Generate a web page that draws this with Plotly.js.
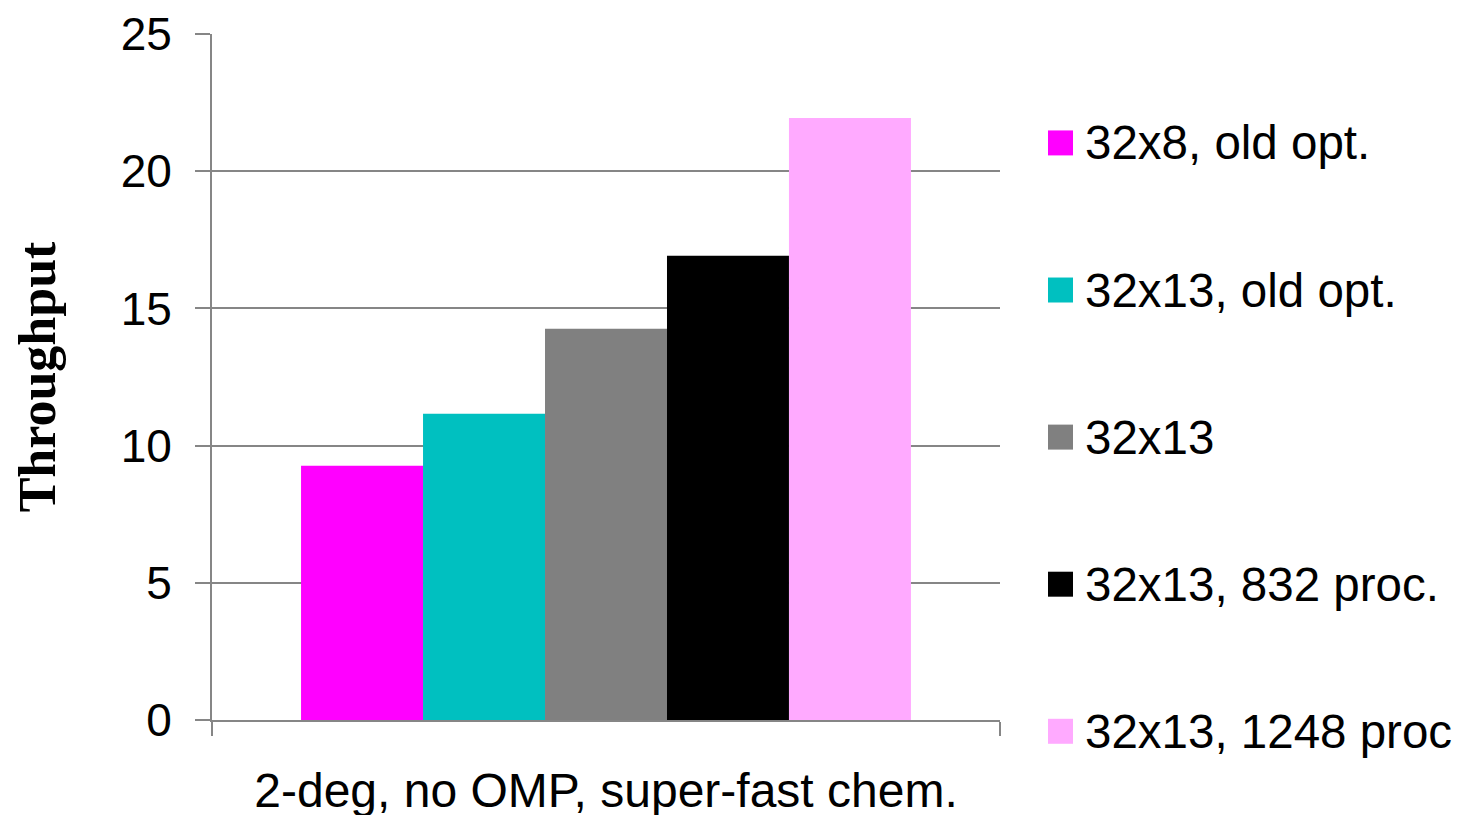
<!DOCTYPE html>
<html>
<head>
<meta charset="utf-8">
<script src="https://cdn.plot.ly/plotly-3.0.1.min.js"></script>
<style>
  html, body { margin: 0; padding: 0; background: #ffffff; }
  #chart { width: 1460px; height: 815px; }
</style>
</head>
<body>
<div id="chart"></div>
<script>
// Single benchmark configuration on the category axis
const categories = ['2-deg, no OMP, super-fast chem.'];

// Run variants (one bar each) and their throughput
const seriesNames = ['32x8, old opt.', '32x13, old opt.', '32x13', '32x13, 832 proc.', '32x13, 1248 proc'];
const seriesValues = [9.27, 11.16, 14.26, 16.92, 21.94];
const seriesColors = ['#FF00FF', '#00C0C0', '#808080', '#000000', '#FFAAFF'];

// Y axis ticks
const yTickValues = [0, 5, 10, 15, 20, 25];
const yTickLabels = ['0', '5', '10', '15', '20', '25'];

const W = 1460, H = 815;
const margin = { l: 212, r: 460, t: 34, b: 94.5 };
const plotW = W - margin.l - margin.r;
const plotH = H - margin.t - margin.b;
const axisGray = '#868686';
const sansFont = 'Liberation Sans, Arial, sans-serif';

const traces = seriesNames.map((name, i) => ({
  type: 'bar',
  name: name,
  x: categories,
  y: [seriesValues[i]],
  marker: { color: seriesColors[i], line: { width: 0 } },
  showlegend: false,
  hoverinfo: 'name+y'
}));

// Legend drawn beside the plot: a colour square and label per series
const legendTop = 143, legendStep = 147.2;
const swatch = 25, swatchLeft = 1048, textLeft = 1083;
const px2x = px => (px - margin.l) / plotW;
const py2y = py => (H - margin.b - py) / plotH;

const shapes = [];
const annotations = [];
seriesNames.forEach((name, i) => {
  const cy = legendTop + i * legendStep;
  shapes.push({
    type: 'rect', xref: 'paper', yref: 'paper',
    x0: px2x(swatchLeft), x1: px2x(swatchLeft + swatch),
    y0: py2y(cy + swatch / 2), y1: py2y(cy - swatch / 2),
    fillcolor: seriesColors[i], line: { width: 0 }
  });
  annotations.push({
    xref: 'paper', yref: 'paper',
    x: px2x(textLeft), y: py2y(cy),
    xanchor: 'left', yanchor: 'middle',
    text: name, showarrow: false,
    font: { family: sansFont, size: 47.5, color: '#000000' }
  });
});

const layout = {
  width: W, height: H,
  margin: margin,
  paper_bgcolor: '#ffffff',
  plot_bgcolor: '#ffffff',
  barmode: 'group',
  bargap: 0.226,
  bargroupgap: 0,
  showlegend: false,
  xaxis: {
    type: 'category',
    tickson: 'boundaries',
    ticks: 'outside', ticklen: 14, tickwidth: 2, tickcolor: axisGray,
    showline: true, linecolor: axisGray, linewidth: 2,
    showgrid: false, zeroline: false,
    ticklabelstandoff: 27,
    tickfont: { family: sansFont, size: 48, color: '#000000' },
    fixedrange: true
  },
  yaxis: {
    range: [0, 25],
    tickvals: yTickValues, ticktext: yTickLabels,
    ticks: 'outside', ticklen: 15, tickwidth: 2, tickcolor: axisGray,
    showline: true, linecolor: axisGray, linewidth: 2,
    showgrid: true, gridcolor: axisGray, gridwidth: 2,
    zeroline: false,
    ticklabelstandoff: 14,
    tickfont: { family: sansFont, size: 46, color: '#000000' },
    title: {
      text: '<b>Throughput</b>',
      font: { family: 'Liberation Serif, Times New Roman, serif', size: 52, color: '#000000' },
      standoff: 48
    },
    fixedrange: true
  },
  shapes: shapes,
  annotations: annotations
};

Plotly.newPlot('chart', traces, layout, { displayModeBar: false, staticPlot: true });
</script>
</body>
</html>
